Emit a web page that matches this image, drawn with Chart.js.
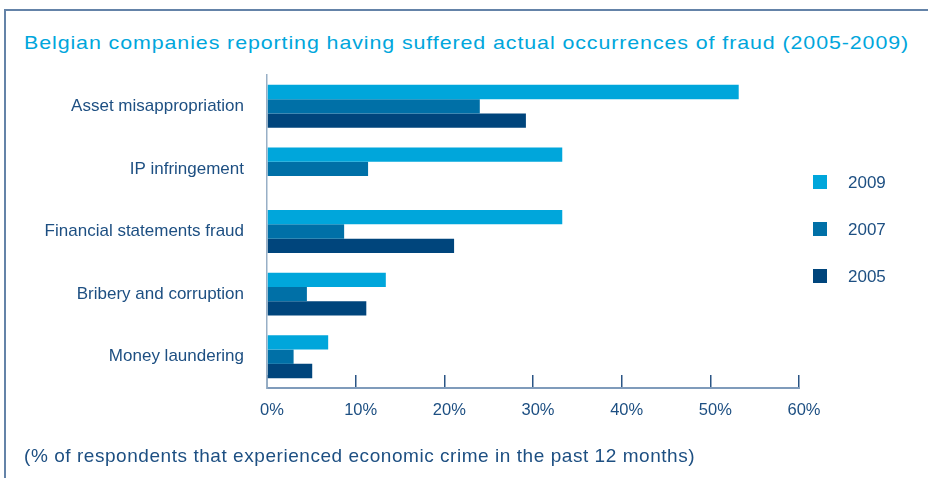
<!DOCTYPE html>
<html>
<head>
<meta charset="utf-8">
<script src="https://cdn.jsdelivr.net/npm/chart.js@4.4.1/dist/chart.umd.min.js"></script>
<style>
  html, body { margin: 0; padding: 0; background: #ffffff; }
  #wrap { position: relative; width: 928px; height: 478px; overflow: hidden; background: #fff; }
  #frame { position: absolute; left: 4px; top: 9px; width: 940px; height: 480px;
           border-top: 2px solid #6483a8; border-left: 2px solid #6483a8; box-sizing: border-box; }
  #title { position: absolute; left: 24px; top: 32.5px; white-space: nowrap;
           font-family: "Liberation Sans", Arial, sans-serif; font-size: 19px; line-height: 19px;
           letter-spacing: 0.8px; color: #00a6dc; transform-origin: 0 50%; transform: scaleX(1.127); }
  #note { position: absolute; left: 24px; top: 446px; white-space: nowrap;
          font-family: "Liberation Sans", Arial, sans-serif; font-size: 19px; line-height: 19px;
          letter-spacing: 0.55px; color: #1d4f82; }
  #legend { position: absolute; left: 813px; top: 175px; }
  .lg { position: relative; height: 47px; }
  .lg .sw { position: absolute; left: 0; top: 0; width: 14px; height: 14px; }
  .lg .tx { position: absolute; left: 35px; top: -1px; font-family: "Liberation Sans", Arial, sans-serif;
            font-size: 17px; line-height: 17px; color: #1d4f82; }
  canvas { position: absolute; left: 0; top: 0; }
</style>
</head>
<body>
<div id="wrap">
  <div id="frame"></div>
  <div id="title">Belgian companies reporting having suffered actual occurrences of fraud (2005-2009)</div>
  <canvas id="c" width="928" height="478"></canvas>
  <div id="legend"></div>
  <div id="note">(% of respondents that experienced economic crime in the past 12 months)</div>
</div>
<script>
const categories = ['Asset misappropriation', 'IP infringement', 'Financial statements fraud', 'Bribery and corruption', 'Money laundering'];
const seriesNames = ['2009', '2007', '2005'];
const values2009 = [53.2, 33.3, 33.3, 13.4, 6.9];
const values2007 = [24.0, 11.4, 8.7, 4.5, 3.0];
const values2005 = [29.2, null, 21.1, 11.2, 5.1];
const xTicks = [0, 10, 20, 30, 40, 50, 60];

const seriesColors = ['#00a6db', '#0070a7', '#00457c'];
const seriesValues = [values2009, values2007, values2005];
const navy = '#1d4f82';
const font = 'Liberation Sans, Arial, sans-serif';

const legend = document.getElementById('legend');
seriesNames.forEach((name, i) => {
  const d = document.createElement('div');
  d.className = 'lg';
  d.innerHTML = '<div class="sw" style="background:' + seriesColors[i] + '"></div><div class="tx"></div>';
  d.querySelector('.tx').textContent = name;
  legend.appendChild(d);
});

new Chart(document.getElementById('c'), {
  type: 'bar',
  data: {
    labels: categories,
    datasets: seriesNames.map((name, i) => ({
      label: name,
      data: seriesValues[i],
      backgroundColor: seriesColors[i],
      borderWidth: 0,
      categoryPercentage: 0.686,
      barPercentage: 1.0
    }))
  },
  options: {
    indexAxis: 'y',
    responsive: false,
    animation: false,
    layout: { padding: { top: 75, right: 129, left: 0, bottom: 0 } },
    plugins: { legend: { display: false }, title: { display: false }, tooltip: { enabled: false } },
    scales: {
      x: {
        min: 0, max: 60,
        afterBuildTicks: (s) => { s.ticks = xTicks.map(v => ({ value: v })); },
        afterFit: (s) => { s.height = 90; },
        grid: { display: true, drawOnChartArea: false, drawTicks: true, tickLength: -13, color: '#2a5585', lineWidth: 1.5 },
        border: { display: true, color: '#7f9bbb', width: 2 },
        ticks: { padding: 26, labelOffset: 5, color: navy, font: { family: font, size: 16.5 },
                 callback: (v) => v + '%' }
      },
      y: {
        afterFit: (s) => { s.width = 267; },
        grid: { display: false, drawTicks: false },
        border: { display: true, color: '#98afc6', width: 1.5 },
        ticks: { padding: 23, color: navy, font: { family: font, size: 17 } }
      }
    }
  }
});
</script>
</body>
</html>
